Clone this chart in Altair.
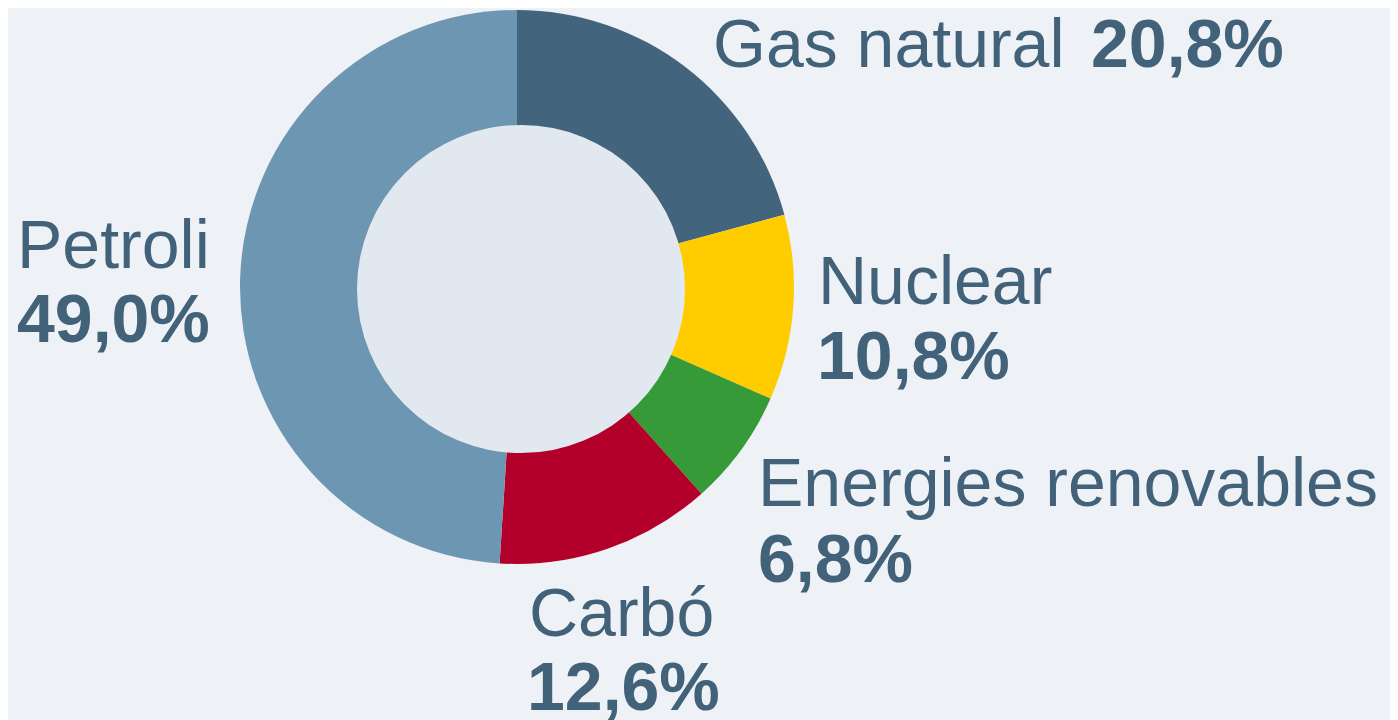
import altair as alt
import pandas as pd

# Data
categories = ["Gas natural", "Nuclear", "Energies renovables", "Carbó", "Petroli"]
shares = [20.8, 10.8, 6.8, 12.6, 49.0]
colors = ["#42647c", "#ffcc00", "#369a38", "#b3002a", "#6d96b3"]

df = pd.DataFrame({
    "cat": categories,
    "val": shares,
    "ord": list(range(len(categories))),
})
df["pct"] = df["val"].map(lambda v: f"{v:.1f}".replace(".", ",") + "%")

W, H = 1382, 712
CX, CY = 509, 279
TEXT_COLOR = "#42627a"
FONT = "Liberation Sans"
FS = 68
HOLE_R = 164

base = alt.Chart(df)

pie = base.mark_arc(radius=277, stroke=None).encode(
    theta=alt.Theta("val:Q", stack=True),
    order=alt.Order("ord:Q"),
    color=alt.Color("cat:N", scale=alt.Scale(domain=categories, range=colors), legend=None),
    x=alt.value(CX),
    y=alt.value(CY),
)

hole = alt.Chart(pd.DataFrame({"k": [0]})).mark_circle(
    opacity=1, color="#e1e8ef", size=(2 * HOLE_R) ** 2
).encode(x=alt.value(513), y=alt.value(281))

# label positions (x, baseline) for name and value lines
label_pos = {
    "Gas natural": ((705, 59), (1083, 59)),
    "Nuclear": ((810, 296), (809, 371)),
    "Energies renovables": ((750, 498), (750, 574)),
    "Carbó": ((521, 628), (519, 702)),
    "Petroli": ((9, 260), (9, 334)),
}

layers = [pie, hole]
for cat, ((nx, ny), (vx, vy)) in label_pos.items():
    sub = base.transform_filter(alt.datum.cat == cat)
    layers.append(
        sub.mark_text(font=FONT, fontSize=FS, align="left", baseline="alphabetic",
                      color=TEXT_COLOR).encode(text="cat:N", x=alt.value(nx), y=alt.value(ny))
    )
    layers.append(
        sub.mark_text(font=FONT, fontSize=FS, fontWeight="bold", align="left",
                      baseline="alphabetic", color=TEXT_COLOR).encode(
            text="pct:N", x=alt.value(vx), y=alt.value(vy))
    )

chart = alt.layer(*layers).properties(
    width=W, height=H, padding=0, background="#eef1f5",
    autosize=alt.AutoSizeParams(type="fit", contains="padding"),
).configure_view(stroke=None)

chart.save("out.html", embed_options={"renderer": "svg", "actions": False})
